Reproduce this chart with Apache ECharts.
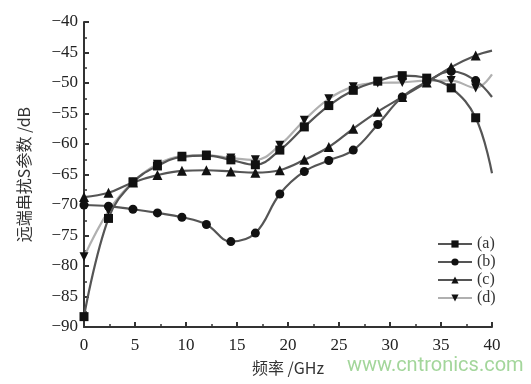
<!DOCTYPE html>
<html>
<head>
<meta charset="utf-8">
<script src="https://cdn.jsdelivr.net/npm/echarts@6/dist/echarts.min.js"></script>
<style>
  html, body { margin: 0; padding: 0; background: #fff; }
  #chart { width: 531px; height: 384px; }
</style>
</head>
<body>
<div id="chart"></div>
<script>
// frequency points (GHz) where the markers sit, last one is the curve end
var freq = [0, 2.4, 4.8, 7.2, 9.6, 12, 14.4, 16.8, 19.2, 21.6, 24, 26.4, 28.8, 31.2, 33.6, 36, 38.4, 40];
var seriesA = [-88.3, -72.2, -66.3, -63.6, -62.1, -61.9, -62.6, -63.4, -61.0, -57.2, -53.7, -51.2, -49.7, -48.8, -49.2, -50.8, -55.7, -64.8];
var seriesB = [-70.0, -70.2, -70.7, -71.3, -72.0, -73.2, -76.0, -74.6, -68.2, -64.5, -62.7, -61.0, -56.8, -52.3, -49.8, -48.1, -49.6, -52.3];
var seriesC = [-68.7, -68.0, -66.3, -65.1, -64.4, -64.3, -64.5, -64.7, -64.3, -62.6, -60.5, -57.5, -54.7, -52.3, -49.9, -47.4, -45.5, -44.7];
var seriesD = [-78.5, -71.0, -66.2, -63.3, -62.0, -61.8, -62.3, -62.6, -60.2, -56.1, -52.6, -50.6, -50.0, -49.9, -49.6, -49.6, -50.8, -48.6];
var names = ['(a)', '(b)', '(c)', '(d)'];
var symbols = ['rect', 'circle', 'triangle', 'path://M0,0 L10,0 L5,10 Z'];
var lineColors = ['#555', '#555', '#555', '#b0b0b0'];

var chart = echarts.init(document.getElementById('chart'));
var serif = '"Liberation Serif", "Times New Roman", serif';
var cjk = '"Noto Sans CJK SC", ' + serif;

function minus(v) { return String(v).replace('-', '\u2212'); }

function makeSeries(vals, i) {
    return {
        name: names[i],
        type: 'line',
        smooth: 0.4,
        symbol: symbols[i],
        symbolSize: i === 2 ? 10 : 9,
        itemStyle: { color: '#111' },
        lineStyle: { color: lineColors[i], width: 2.2 },
        data: vals.map(function (v, k) {
            var p = { value: [freq[k], v] };
            if (k === freq.length - 1) p.symbol = 'none';
            return p;
        }),
        z: 4 - i
    };
}

chart.setOption({
    animation: false,
    grid: { left: 84, right: 39, top: 22, bottom: 57 },
    legend: {
        orient: 'vertical',
        left: 432, top: 231,
        itemWidth: 34, itemHeight: 9, itemGap: 2,
        textStyle: { fontFamily: serif, fontSize: 16, lineHeight: 16, color: '#333' },
        data: names
    },
    xAxis: {
        type: 'value', min: 0, max: 40, interval: 5,
        name: '频率 /GHz', nameLocation: 'middle', nameGap: 33,
        nameTextStyle: { fontFamily: cjk, fontSize: 16, color: '#333' },
        axisLine: { lineStyle: { color: '#333', width: 2 } },
        axisTick: { inside: true, length: 5, lineStyle: { color: '#333', width: 2 } },
        minorTick: { show: true, splitNumber: 2, length: 3, lineStyle: { color: '#333', width: 1.5 } },
        axisLabel: { fontFamily: serif, fontSize: 17, color: '#222', margin: 10 },
        splitLine: { show: false }
    },
    yAxis: {
        type: 'value', min: -90, max: -40, interval: 5,
        name: '远端串扰S参数 /dB', nameLocation: 'middle', nameGap: 52,
        nameTextStyle: { fontFamily: cjk, fontSize: 16, color: '#333' },
        axisLine: { show: true, lineStyle: { color: '#333', width: 2 } },
        axisTick: { inside: true, length: 5, lineStyle: { color: '#333', width: 2 } },
        minorTick: { show: true, splitNumber: 2, length: 3, lineStyle: { color: '#333', width: 1.5 } },
        axisLabel: { fontFamily: serif, fontSize: 17, color: '#222', margin: 6, formatter: minus },
        splitLine: { show: false }
    },
    graphic: [{
        type: 'text', left: 347, top: 356,
        style: { text: 'www.cntronics.com', fontFamily: 'Roboto, sans-serif', fontSize: 20, fill: '#a3d69b' }
    }],
    series: [makeSeries(seriesA, 0), makeSeries(seriesB, 1), makeSeries(seriesC, 2), makeSeries(seriesD, 3)]
});
</script>
</body>
</html>
